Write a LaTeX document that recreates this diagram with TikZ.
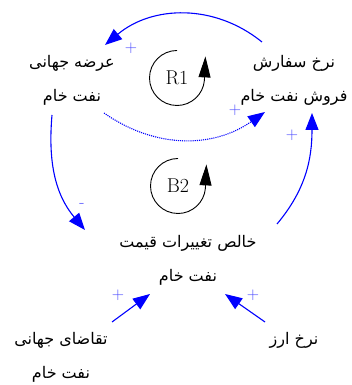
\documentclass[tikz,border=0pt]{standalone}
\usepackage{fontspec}
\newfontfamily\arabicfont[Script=Arabic]{DejaVu Sans}
\TeXXeTstate=1
\usetikzlibrary{arrows.meta}
\definecolor{signblue}{RGB}{70,70,255}
\tikzset{
  lab/.style={align=center,inner sep=0pt,font={\arabicfont\fontsize{16}{34}\selectfont}},
  conn/.style={draw=blue,line width=1.1pt,-{Triangle[length=17pt,width=13pt]},blue},
  sgn/.style={text=signblue,font={\fontsize{17}{17}\selectfont},inner sep=0pt},
  loopc/.style={draw=black,line width=0.9pt,-{Triangle[length=21pt,width=12pt]}},
  looplab/.style={font={\fontsize{20}{22}\selectfont},inner sep=0pt}
}
\begin{document}
\begin{tikzpicture}[x=1pt,y=1pt]
\useasboundingbox (0,0) rectangle (351,385);
\node[lab] (A) at (72,305) {\beginR عرضه جهانی\endR\\\beginR نفت خام\endR};
\node[lab] (B) at (294,305) {\beginR نرخ سفارش\endR\\\beginR فروش نفت خام\endR};
\node[lab] (C) at (188,125) {\beginR خالص تغییرات قیمت\endR\\\beginR نفت خام\endR};
\node[lab] (D) at (61,27.5) {\beginR تقاضای جهانی\endR\\\beginR نفت خام\endR};
\node[lab] (E) at (294,45) {\beginR نرخ ارز\endR};
% loops
\node[looplab] (R) at (177,307) {R1};
\node[looplab] (Bt) at (178,199) {B2};
\draw[loopc] ([shift={(0,27.5)}]R.center) arc[start angle=90,end angle=355,radius=27.5] -- ++(1,24);
\draw[loopc] ([shift={(0,27.5)}]Bt.center) arc[start angle=90,end angle=355,radius=27.5] -- ++(1,24);
% connectors
\draw[conn] ([shift={(-32,38)}]B.center) to[out=141,in=40] ([shift={(33,35)}]A.center);
\draw[conn,densely dotted] ([shift={(32,-33)}]A.center) to[out=-35,in=215] ([shift={(-29,-32)}]B.center);
\draw[conn] ([shift={(-20,-35)}]A.center) to[out=-95,in=130] ([shift={(-103,30)}]C.center);
\draw[conn] ([shift={(89,36)}]C.center) to[out=50,in=-90] ([shift={(18,-33)}]B.center);
\draw[conn] ([shift={(51,35.5)}]D.center) -- ([shift={(-38,-34)}]C.center);
\draw[conn] ([shift={(-29,18)}]E.center) -- ([shift={(37,-34)}]C.center);
% signs
\node[sgn] (s1) at (131,337) {+};
\node[sgn] (s2) at (235,275) {+};
\node[sgn] (s3) at (82,180) {-};
\node[sgn] (s4) at (292,250) {+};
\node[sgn] (s5) at (118,90) {+};
\node[sgn] (s6) at (253,90) {+};
\end{tikzpicture}
\end{document}
